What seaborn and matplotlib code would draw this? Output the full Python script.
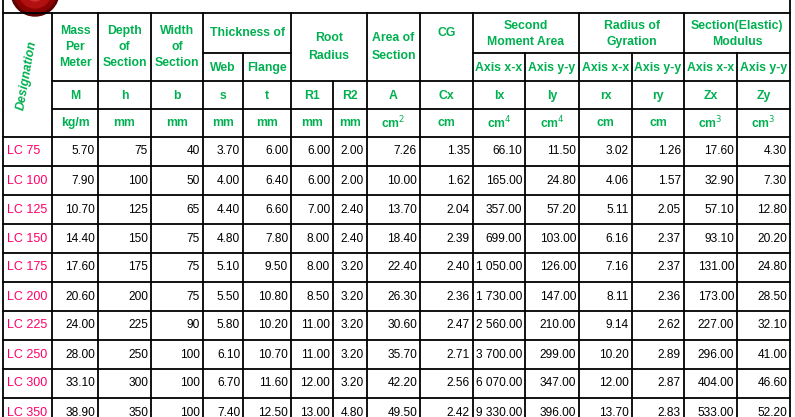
import matplotlib
matplotlib.use("Agg")
import matplotlib.pyplot as plt
from matplotlib.patches import Circle
import seaborn as sns

sns.set_theme(style="white")
plt.rcParams["font.family"] = "Liberation Sans"

designations = ["LC 75", "LC 100", "LC 125", "LC 150", "LC 175", "LC 200", "LC 225", "LC 250", "LC 300", "LC 350"]
mass = [5.70, 7.90, 10.70, 14.40, 17.60, 20.60, 24.00, 28.00, 33.10, 38.90]
depth = [75, 100, 125, 150, 175, 200, 225, 250, 300, 350]
width = [40, 50, 65, 75, 75, 75, 90, 100, 100, 100]
web = [3.70, 4.00, 4.40, 4.80, 5.10, 5.50, 5.80, 6.10, 6.70, 7.40]
flange = [6.00, 6.40, 6.60, 7.80, 9.50, 10.80, 10.20, 10.70, 11.60, 12.50]
r1 = [6.00, 6.00, 7.00, 8.00, 8.00, 8.50, 11.00, 11.00, 12.00, 13.00]
r2 = [2.00, 2.00, 2.40, 2.40, 3.20, 3.20, 3.20, 3.20, 3.20, 4.80]
area = [7.26, 10.00, 13.70, 18.40, 22.40, 26.30, 30.60, 35.70, 42.20, 49.50]
cx = [1.35, 1.62, 2.04, 2.39, 2.40, 2.36, 2.47, 2.71, 2.56, 2.42]
ix = [66.10, 165.00, 357.00, 699.00, 1050.00, 1730.00, 2560.00, 3700.00, 6070.00, 9330.00]
iy = [11.50, 24.80, 57.20, 103.00, 126.00, 147.00, 210.00, 299.00, 347.00, 396.00]
rx = [3.02, 4.06, 5.11, 6.16, 7.16, 8.11, 9.14, 10.20, 12.00, 13.70]
ry = [1.26, 1.57, 2.05, 2.37, 2.37, 2.36, 2.62, 2.89, 2.87, 2.83]
zx = [17.60, 32.90, 57.10, 93.10, 131.00, 173.00, 227.00, 296.00, 404.00, 533.00]
zy = [4.30, 7.30, 12.80, 20.20, 24.80, 28.50, 32.10, 41.00, 46.60, 52.20]
symbols = ["M", "h", "b", "s", "t", "R1", "R2", "A", "Cx", "Ix", "Iy", "rx", "ry", "Zx", "Zy"]
units = ["kg/m", "mm", "mm", "mm", "mm", "mm", "mm", "cm$^2$", "cm", "cm$^4$", "cm$^4$", "cm", "cm", "cm$^3$", "cm$^3$"]

cols = [mass, depth, width, web, flange, r1, r2, area, cx, ix, iy, rx, ry, zx, zy]
fmt_int = {1, 2}

def fmt(v, j):
    if j in fmt_int:
        return f"{int(v)}"
    s = f"{v:.2f}"
    if v >= 1000:
        ip, dp = s.split(".")
        s = ip[:-3] + " " + ip[-3:] + "." + dp
    return s

xs = [3, 52, 98, 151, 203, 243, 291, 333, 367, 420, 473, 525, 579, 632, 684, 737, 790]
rh = 29

GREEN = "#00B050"
PINK = "#FF0066"
fig = plt.figure(figsize=(7.95, 4.17), dpi=100)
ax = fig.add_axes([0, 0, 1, 1])
ax.set_xlim(0, 795)
ax.set_ylim(417, 0)
ax.axis("off")

for r, c in [(24, "#5a0000"), (21, "#8b0000"), (16, "#b01010"), (9, "#d03030")]:
    ax.add_patch(Circle((35, -8), r, color=c, zorder=1))

lw = 1.3
def hline(y, x0, x1):
    ax.plot([x0, x1], [y, y], color="black", lw=lw, zorder=3)
def vline(x, y0, y1):
    ax.plot([x, x], [y0, y1], color="black", lw=lw, zorder=3)

bottom = 422
vline(3, 0, bottom)
vline(790, 0, bottom)
hline(13, 3, 790)
tops = {243: 53, 525: 53, 632: 53, 737: 53, 333: 81}
for x in xs[1:-1]:
    vline(x, tops.get(x, 13), bottom)
for y in (81, 109):
    hline(y, 52, 790)
hline(137, 3, 790)
hline(53, 203, 291)
hline(53, 473, 790)
for i in range(1, 11):
    hline(137 + i * rh, 3, 790)

hk = dict(color=GREEN, fontweight="bold", fontsize=8.8, ha="center", va="center", zorder=4)
def cc(a, b):
    return (xs[a] + xs[b]) / 2

ax.text(27, 75, "Designation", rotation=80, style="italic", **hk)
ax.text(cc(1, 2), 47, "Mass\nPer\nMeter", linespacing=1.45, **hk)
ax.text(cc(2, 3), 47, "Depth\nof\nSection", linespacing=1.45, **hk)
ax.text(cc(3, 4), 47, "Width\nof\nSection", linespacing=1.45, **hk)
ax.text(cc(4, 6), 33, "Thickness of", **hk)
ax.text(cc(4, 5), 68, "Web", **hk)
ax.text(cc(5, 6), 68, "Flange", **hk)
ax.text(cc(6, 8), 47, "Root\nRadius", linespacing=1.6, **hk)
ax.text(cc(8, 9), 47, "Area of\nSection", linespacing=1.6, **hk)
ax.text(cc(9, 10), 33, "CG", **hk)
ax.text(cc(10, 12), 34, "Second\nMoment Area", linespacing=1.5, **hk)
ax.text(cc(12, 14), 34, "Radius of\nGyration", linespacing=1.5, **hk)
ax.text(cc(14, 16), 34, "Section(Elastic)\nModulus", linespacing=1.5, **hk)
for k in range(10, 16):
    ax.text(cc(k, k + 1), 68, "Axis x-x" if k % 2 == 0 else "Axis y-y", **hk)
for j in range(15):
    ax.text(cc(j + 1, j + 2), 96, symbols[j], **hk)
    ax.text(cc(j + 1, j + 2), 123, units[j], **hk)

for i, d in enumerate(designations):
    yc = 137 + i * rh + rh / 2
    ax.text(7, yc, d, color=PINK, fontsize=9, ha="left", va="center", zorder=4)
    for j, col in enumerate(cols):
        ax.text(xs[j + 2] - 3, yc, fmt(col[i], j), color="black", fontsize=8.6,
                ha="right", va="center", zorder=4)

fig.savefig("out.png", dpi=100, facecolor="white")
